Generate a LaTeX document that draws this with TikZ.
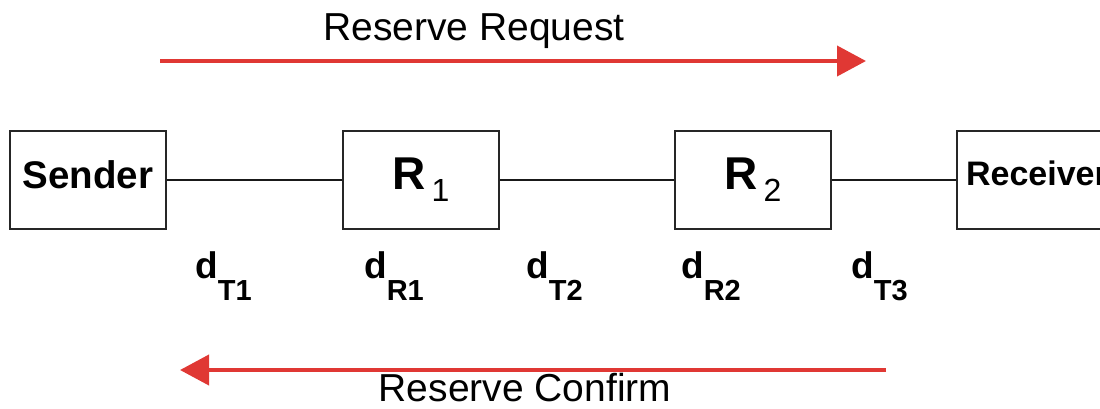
\documentclass[tikz,border=0pt]{standalone}
\usepackage{fontspec}
\setmainfont{Liberation Sans}
\usetikzlibrary{arrows.meta}
\definecolor{redarrow}{RGB}{224,56,52}
\begin{document}
\begin{tikzpicture}[x=1pt,y=-1pt,
  box/.style={draw=black!85, line width=2pt, minimum width=156pt, minimum height=98pt, inner sep=0pt},
  link/.style={draw=black!90, line width=2.4pt},
  flow/.style={draw=redarrow, line width=4pt, -{Triangle[length=29pt,width=30pt]}},
  msg/.style={anchor=base, inner sep=0pt, font=\fontsize{39}{39}\selectfont},
  delay/.style={anchor=base west, inner sep=0pt, font=\fontsize{37}{37}\selectfont\bfseries},
  sub/.style={}
]
\useasboundingbox (0,0) rectangle (1100,408);
\clip (0,0) rectangle (1100,408);

\node[box, font=\fontsize{38.5}{38}\selectfont\bfseries] (snd) at (88,180) {Sender\rule[-10pt]{0pt}{0pt}\hspace{3pt}};
\node[box] (r1) at (421,180) {\fontsize{46}{46}\selectfont\bfseries R\hspace{6pt}\raisebox{-12pt}{\fontsize{32}{32}\selectfont\mdseries 1}\hspace{25pt}};
\node[box] (r2) at (753,180) {\fontsize{46}{46}\selectfont\bfseries R\hspace{6pt}\raisebox{-12pt}{\fontsize{32}{32}\selectfont\mdseries 2}};
\node[box, minimum width=160pt, font=\fontsize{34}{34}\selectfont\bfseries] (rcv) at (1037,180) {Receiver\rule[-14pt]{0pt}{0pt}\hspace{14pt}};

\draw[link] (snd) -- (r1);
\draw[link] (r1) -- (r2);
\draw[link] (r2) -- (rcv);

\node[delay] (dt1) at (195,278) {d\raisebox{-22pt}{\fontsize{29}{29}\selectfont T1}};
\node[delay] (dr1) at (364,278) {d\raisebox{-22pt}{\fontsize{29}{29}\selectfont R1}};
\node[delay] (dt2) at (526,278) {d\raisebox{-22pt}{\fontsize{29}{29}\selectfont T2}};
\node[delay] (dr2) at (681,278) {d\raisebox{-22pt}{\fontsize{29}{29}\selectfont R2}};
\node[delay] (dt3) at (851,278) {d\raisebox{-22pt}{\fontsize{29}{29}\selectfont T3}};

\coordinate (reqS) at (160,61);
\coordinate (reqE) at (866,61);
\draw[flow] (reqS) -- (reqE);
\node[msg] (req) at (474,40) {Reserve Request};

\coordinate (cnfS) at (886,370);
\coordinate (cnfE) at (180,370);
\draw[flow] (cnfS) -- (cnfE);
\node[msg] (cnf) at (525,401) {Reserve Confirm};
\end{tikzpicture}
\end{document}
